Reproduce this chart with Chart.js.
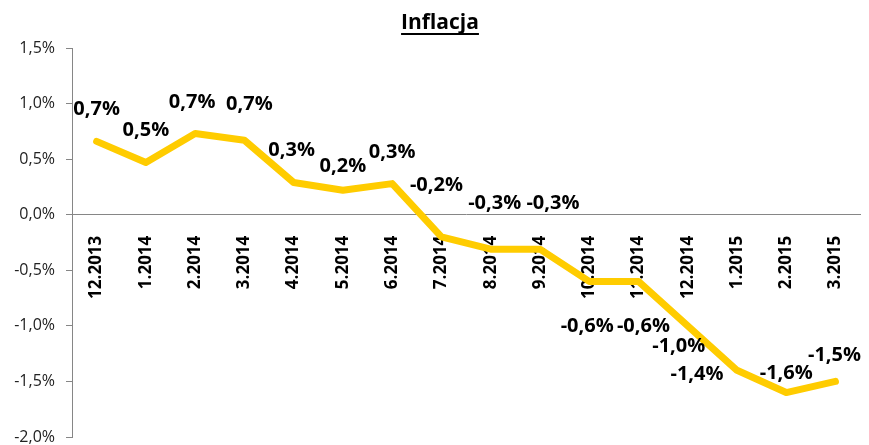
<!DOCTYPE html>
<html>
<head>
<meta charset="utf-8">
<title>Inflacja</title>
<script src="https://cdn.jsdelivr.net/npm/chart.js@4.4.1/dist/chart.umd.min.js"></script>
<style>
  html, body { margin: 0; padding: 0; background: #fff; }
</style>
</head>
<body>
<canvas id="chartInflacja" width="869" height="445"></canvas>
<script>
// dane (w %)
const months = ['12.2013', '1.2014', '2.2014', '3.2014', '4.2014', '5.2014', '6.2014', '7.2014',
                '8.2014', '9.2014', '10.2014', '11.2014', '12.2014', '1.2015', '2.2015', '3.2015'];
const inflation = [0.66, 0.47, 0.73, 0.67, 0.29, 0.22, 0.28, -0.2, -0.31, -0.31, -0.6, -0.6, -1.0, -1.4, -1.6, -1.5];
const yMin = -2.0;
const yMax = 1.5;
const yStep = 0.5;

// przesunięcia etykiet danych względem punktu (dx, dy)
const labelOffsets = [[0, -32], [0, -32], [-3, -31], [5, -36], [-2, -32], [0, -24], [0, -31], [-5, -52],
                      [4, -46], [13, -46], [-2, 45], [5, 45], [-9, 20], [-40, 4], [0, -19], [-1, -26]];

const FONT = "'Open Sans', 'Noto Sans', sans-serif";
const fmtPct = v => v.toFixed(1).replace('.', ',') + '%';

const titlePlugin = {
    id: 'underlinedTitle',
    afterDraw(chart) {
        const ctx = chart.ctx;
        ctx.save();
        ctx.font = 'bold 21px ' + FONT;
        ctx.fillStyle = '#000';
        ctx.textAlign = 'center';
        ctx.textBaseline = 'alphabetic';
        const x = 440, y = 29;
        ctx.fillText('Inflacja', x, y);
        const w = ctx.measureText('Inflacja').width;
        ctx.fillRect(x - w / 2, y + 4, w, 2);
        ctx.restore();
    }
};

const dataLabels = {
    id: 'dataLabels',
    afterDatasetsDraw(chart) {
        const ctx = chart.ctx;
        const meta = chart.getDatasetMeta(0);
        ctx.save();
        ctx.font = 'bold 20px ' + FONT;
        ctx.fillStyle = '#000';
        ctx.textAlign = 'center';
        ctx.textBaseline = 'middle';
        meta.data.forEach((pt, i) => {
            const [dx, dy] = labelOffsets[i];
            ctx.fillText(fmtPct(inflation[i]), pt.x + dx, pt.y + dy);
        });
        ctx.restore();
    }
};

new Chart(document.getElementById('chartInflacja'), {
    type: 'line',
    data: {
        labels: months,
        datasets: [{
            data: inflation,
            borderColor: '#FFCC00',
            borderWidth: 7,
            borderCapStyle: 'round',
            borderJoinStyle: 'round',
            pointRadius: 0,
            tension: 0,
            fill: false
        }]
    },
    options: {
        responsive: false,
        animation: false,
        layout: { padding: { top: 48, right: 4, bottom: 8, left: 0 } },
        plugins: {
            legend: { display: false },
            title: { display: false },
            tooltip: { enabled: false }
        },
        scales: {
            x: {
                position: { y: 0 },
                offset: true,
                z: 1,
                grid: { display: false },
                border: { display: true, color: '#868686', width: 1 },
                ticks: {
                    autoSkip: false,
                    minRotation: 90,
                    maxRotation: 90,
                    padding: 13,
                    color: '#000',
                    font: { family: FONT, size: 17, weight: 'bold' }
                }
            },
            y: {
                min: yMin,
                max: yMax,
                afterFit(scale) {
                    scale.width = 72;
                    scale.paddingTop = 0;
                    scale.paddingBottom = 0;
                },
                grid: { drawOnChartArea: false, drawTicks: true, tickLength: 6, color: '#868686' },
                border: { display: true, color: '#868686', width: 1 },
                ticks: {
                    stepSize: yStep,
                    padding: 11,
                    color: '#222',
                    font: { family: FONT, size: 16 },
                    callback: v => fmtPct(v)
                }
            }
        }
    },
    plugins: [titlePlugin, dataLabels]
});
</script>
</body>
</html>
